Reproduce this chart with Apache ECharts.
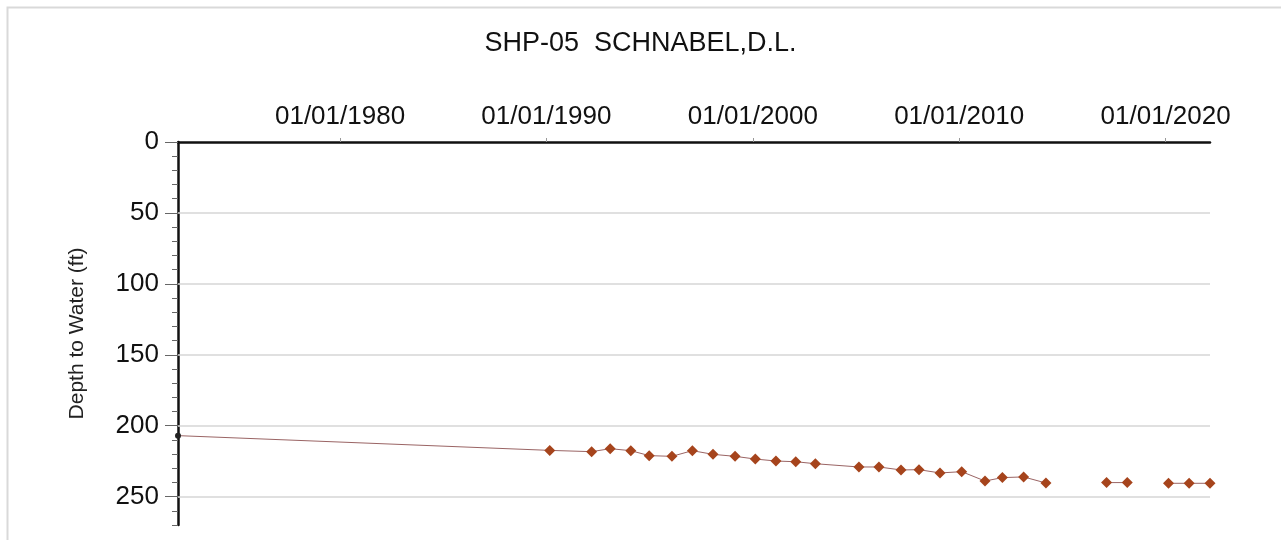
<!DOCTYPE html>
<html>
<head>
<meta charset="utf-8">
<script src="https://cdn.jsdelivr.net/npm/echarts@6/dist/echarts.min.js"></script>
<style>
html,body{margin:0;padding:0;background:#fff;}
#chart{width:1281px;height:540px;}
</style>
</head>
<body>
<div id="chart"></div>
<script>
const titleText = 'SHP-05  SCHNABEL,D.L.';
const yAxisName = 'Depth to Water (ft)';
// decimal years of measurements (null = break in the record)
const years = [1972.15, 1990.16, 1992.19, 1993.09, 1994.09, 1994.98, 1996.08, 1997.07, 1998.07, 1999.14,
  2000.12, 2001.12, 2002.08, 2003.03, 2005.14, 2006.11, 2007.18, 2008.05, 2009.07, 2010.12,
  2011.25, 2012.09, 2013.12, 2014.2, null, 2017.14, 2018.14, null, 2020.14, 2021.14, 2022.15];
const depths = [207, 217.4, 218.3, 216.2, 217.6, 221.1, 221.6, 217.6, 220.2, 221.6,
  223.5, 224.9, 225.4, 226.8, 229.1, 229.1, 231.2, 231.0, 233.3, 232.4,
  239.0, 236.6, 236.1, 240.4, null, 240.1, 240.1, null, 240.6, 240.6, 240.6];
const xTickYears = [1980, 1990, 2000, 2010, 2020];
const yTickLabels = [0, 50, 100, 150, 200, 250];
const gridValues = [50, 100, 150, 200, 250];
const xMin = 1972.15, xMax = 2022.15;
const yMin = 0, yMax = 270;

const data = years.map((y, i) => (y === null ? [null, null] : [y, depths[i]]));

const chart = echarts.init(document.getElementById('chart'));
const font = 'Liberation Sans, Arial, sans-serif';
chart.setOption({
  animation: false,
  backgroundColor: '#fff',
  graphic: [{
    type: 'rect', left: 5, top: 5, shape: { width: 1300, height: 560 },
    style: { fill: 'none', stroke: '#d9d9d9', lineWidth: 2 }, z: -1
  }],
  title: {
    text: titleText, left: 'center', top: 25,
    textStyle: { fontFamily: font, fontSize: 27, fontWeight: 'normal', color: '#111' }
  },
  grid: { left: 178, top: 142, width: 1032, height: 383 },
  xAxis: {
    type: 'value', position: 'top', min: xMin, max: xMax,
    axisLine: { show: true, lineStyle: { color: '#111', width: 2.5 } },
    axisTick: { show: true, customValues: xTickYears, length: 4, lineStyle: { color: '#999' } },
    axisLabel: {
      customValues: xTickYears, formatter: v => '01/01/' + v, margin: 12,
      fontFamily: font, fontSize: 26, color: '#111'
    },
    splitLine: { show: false }
  },
  yAxis: [{
    type: 'value', inverse: true, min: yMin, max: yMax, interval: 10,
    name: yAxisName, nameLocation: 'middle', nameGap: 90,
    nameTextStyle: { fontFamily: font, fontSize: 21, color: '#222' },
    axisLine: { show: true, lineStyle: { color: '#111', width: 2.5 } },
    axisTick: { show: true, length: 6, lineStyle: { color: '#666' } },
    axisLabel: { customValues: yTickLabels, margin: 19, fontFamily: font, fontSize: 26, color: '#111' },
    splitLine: { show: false }
  }, {
    type: 'value', inverse: true, min: yMin, max: yMax, interval: 50, position: 'left',
    axisLine: { show: false },
    axisTick: { show: true, customValues: yTickLabels, length: 13, lineStyle: { color: '#666' } },
    axisLabel: { show: false },
    splitLine: { show: false }
  }],
  series: [{
    type: 'line',
    data: data,
    connectNulls: false,
    symbol: (v, p) => (p.dataIndex === 0 ? 'circle' : 'diamond'),
    symbolSize: (v, p) => (p.dataIndex === 0 ? 6 : 11),
    itemStyle: { color: p => (p.dataIndex === 0 ? '#222' : '#a6441c') },
    lineStyle: { color: '#9a6464', width: 1 },
    markLine: {
      silent: true, symbol: 'none', label: { show: false },
      lineStyle: { color: '#d6d6d6', width: 1.5, type: 'solid' },
      data: gridValues.map(v => ({ yAxis: v }))
    },
    z: 3
  }]
});
</script>
</body>
</html>
